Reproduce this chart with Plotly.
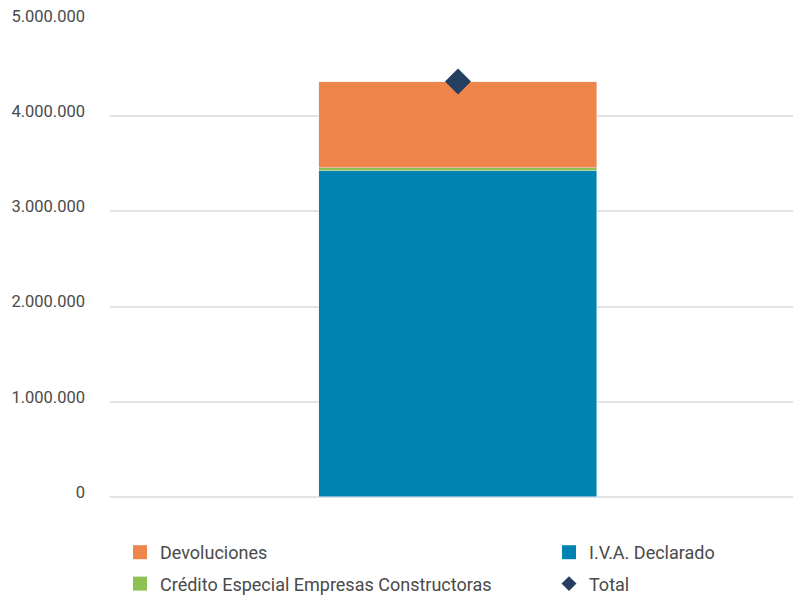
import plotly.graph_objects as go

# Single-period breakdown (values in pesos)
periodo = [0]
iva_declarado = [3428000]
credito_especial = [24000]
devoluciones = [912000]
total = [a + b + c for a, b, c in zip(iva_declarado, credito_especial, devoluciones)]

y_ticks = [0, 1000000, 2000000, 3000000, 4000000, 5000000]

BLUE = "#0083B1"
GREEN = "#8DC153"
ORANGE = "#F0854B"
NAVY = "#243F62"
TEXT = "#4a4a4a"
GRID = "#e3e3e3"

series = [
    # name, values, colour, legend column, row
    ("I.V.A. Declarado", iva_declarado, BLUE, "legend2", 1),
    ("Crédito Especial Empresas Constructoras", credito_especial, GREEN, "legend", 2),
    ("Devoluciones", devoluciones, ORANGE, "legend", 1),
]

fig = go.Figure()
bar_w = 0.407
for name, vals, color, leg, rank in series:
    fig.add_bar(x=periodo, y=vals, name=name, marker_color=color, width=bar_w,
                legendgroup=name, showlegend=False)
    # legend key drawn as a larger square swatch
    fig.add_scatter(x=[None], y=[None], mode="markers", name=name,
                    marker=dict(symbol="square", size=14, color=color),
                    legend=leg, legendgroup=name, legendrank=rank)

fig.add_scatter(x=periodo, y=total, name="Total", mode="markers",
                marker=dict(symbol="diamond", size=20, color=NAVY),
                legendgroup="Total", showlegend=False)
fig.add_scatter(x=[None], y=[None], mode="markers", name="Total",
                marker=dict(symbol="diamond", size=11.5, color=NAVY),
                legend="legend2", legendgroup="Total", legendrank=2)

legend_common = dict(
    orientation="v",
    xref="container", yref="container",
    y=0.107, xanchor="left", yanchor="top",
    traceorder="grouped",
    tracegroupgap=5,
    itemsizing="trace",
    font=dict(size=18, color=TEXT),
    bgcolor="rgba(0,0,0,0)",
)

fig.update_layout(
    width=793, height=598,
    barmode="stack",
    bargap=0,
    separators=",.",
    paper_bgcolor="white",
    plot_bgcolor="white",
    margin=dict(l=110, r=0, t=21, b=101, autoexpand=False),
    font=dict(family="Roboto, sans-serif", size=17, color=TEXT),
    showlegend=True,
    legend=dict(x=120 / 793, **legend_common),
    legend2=dict(x=549 / 793, **legend_common),
    xaxis=dict(
        range=[-0.5095, 0.4905],
        showticklabels=False, showgrid=False, zeroline=False,
        showline=False, ticks="",
    ),
    yaxis=dict(
        range=[0, 5000000],
        tickvals=y_ticks,
        tickformat=",d",
        showgrid=True, gridcolor=GRID, gridwidth=1.5,
        zeroline=True, zerolinecolor=GRID, zerolinewidth=1.5,
        showline=False, ticks="",
        ticklabelstandoff=24,
        ticklabelshift=-5,
        tickfont=dict(size=16.5, color=TEXT),
    ),
)

fig.write_html("out.html")
